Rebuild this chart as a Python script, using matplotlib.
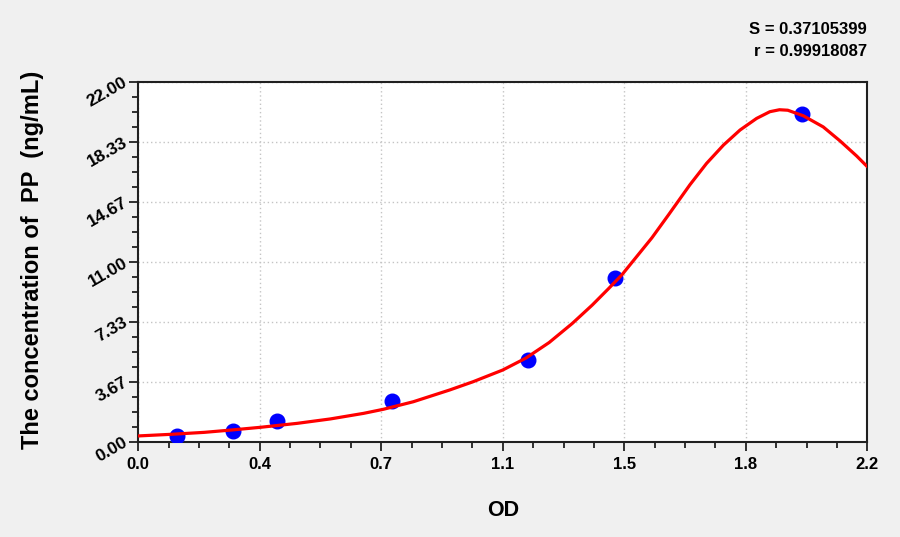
import matplotlib
matplotlib.use("Agg")
import matplotlib.pyplot as plt
from matplotlib.ticker import AutoMinorLocator, FixedLocator, FixedFormatter

plt.rcParams['font.family'] = ['Liberation Sans', 'DejaVu Sans']

# standard points
od = [0.118, 0.285, 0.418, 0.766, 1.177, 1.439, 2.002]
conc = [0.3125, 0.625, 1.25, 2.5, 5.0, 10.0, 20.0]

# fitted curve
curve_od = [0.00, 0.10, 0.20, 0.28, 0.37, 0.48, 0.58, 0.68, 0.74, 0.83, 0.94, 1.01,
            1.10, 1.17, 1.24, 1.31, 1.37, 1.42, 1.46, 1.50, 1.55, 1.60, 1.665, 1.715,
            1.766, 1.816, 1.866, 1.906, 1.935, 1.96, 2.007, 2.067, 2.118, 2.168, 2.20]
curve_conc = [0.34, 0.44, 0.56, 0.70, 0.87, 1.11, 1.38, 1.72, 1.97, 2.43, 3.15, 3.65,
              4.37, 5.10, 6.05, 7.22, 8.34, 9.36, 10.20, 11.20, 12.45, 13.85, 15.70, 17.00,
              18.12, 19.04, 19.75, 20.16, 20.28, 20.25, 19.91, 19.23, 18.37, 17.45, 16.80]

x_ticks = [0.0, 0.36667, 0.73333, 1.1, 1.46667, 1.83333, 2.2]
x_tick_labels = ["0.0", "0.4", "0.7", "1.1", "1.5", "1.8", "2.2"]
y_ticks = [0.0, 3.6667, 7.3333, 11.0, 14.6667, 18.3333, 22.0]
y_tick_labels = ["0.00", "3.67", "7.33", "11.00", "14.67", "18.33", "22.00"]

stat_lines = ["S = 0.37105399", "r = 0.99918087"]
x_label = "OD"
y_label = "The concentration of  PP  (ng/mL)"

W, H = 900, 537
fig = plt.figure(figsize=(W / 100, H / 100), dpi=100, facecolor="#f0f0f0")
left, right, top, bottom = 138.2, 867.3, 81.6, 441.5
ax = fig.add_axes([left / W, 1 - bottom / H, (right - left) / W, (bottom - top) / H])
ax.set_facecolor("white")

ax.plot(od, conc, linestyle="none", marker="o", markersize=10.5,
        markerfacecolor="#0000ff", markeredgecolor="#0000ff", zorder=3)
ax.plot(curve_od, curve_conc, color="#ff0000", linewidth=2.3, zorder=4,
        solid_joinstyle="round", solid_capstyle="round", clip_on=True)

ax.set_xlim(0, 2.2)
ax.set_ylim(0, 22)
ax.xaxis.set_major_locator(FixedLocator(x_ticks))
ax.xaxis.set_major_formatter(FixedFormatter(x_tick_labels))
ax.yaxis.set_major_locator(FixedLocator(y_ticks))
ax.yaxis.set_major_formatter(FixedFormatter(y_tick_labels))
ax.xaxis.set_minor_locator(AutoMinorLocator(4))
ax.yaxis.set_minor_locator(AutoMinorLocator(4))

ax.grid(True, which="major", linestyle=(0, (1, 2)), color="#c4c4c4", linewidth=1.0)
ax.set_axisbelow(True)

for s in ax.spines.values():
    s.set_linewidth(1.5)
    s.set_color("#202020")

ax.tick_params(which="major", direction="out", length=6.5, width=1.3, color="#202020")
ax.tick_params(which="minor", direction="out", length=4.5, width=1.3, color="#202020")
ax.tick_params(axis="x", which="major", pad=5, labelsize=12)
ax.tick_params(axis="y", which="major", pad=2, labelsize=12.5)
ax.tick_params(top=False, right=False)

for lab in ax.get_xticklabels():
    lab.set_fontweight("bold")
for lab in ax.get_yticklabels():
    lab.set_fontweight("bold")
    lab.set_rotation(30)
    lab.set_rotation_mode("anchor")
    lab.set_ha("right")
    lab.set_va("center")

fig.text(502.7 / W, 1 - 510 / H, x_label, fontsize=15.5, fontweight="bold",
         ha="center", va="center")
fig.text(33 / W, 1 - 260 / H, y_label, fontsize=17, fontweight="bold",
         ha="center", va="center", rotation=90)
fig.text(867 / W, 1 - 30 / H, stat_lines[0], fontsize=12, fontweight="bold",
         ha="right", va="center")
fig.text(867 / W, 1 - 52 / H, stat_lines[1], fontsize=12, fontweight="bold",
         ha="right", va="center")

fig.savefig("out.png", dpi=100, facecolor=fig.get_facecolor())
